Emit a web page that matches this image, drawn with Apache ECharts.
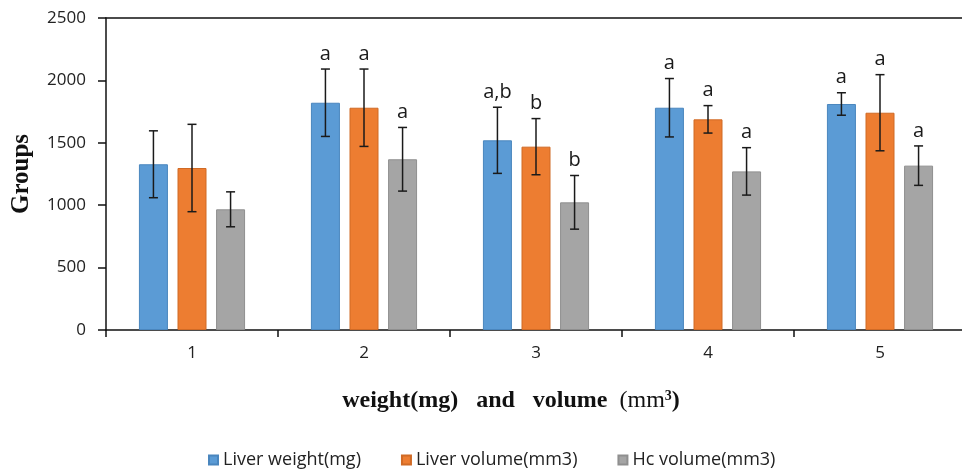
<!DOCTYPE html>
<html>
<head>
<meta charset="utf-8">
<script src="https://cdn.jsdelivr.net/npm/echarts@6/dist/echarts.min.js"></script>
<style>html,body{margin:0;padding:0;background:#fff}#c{width:962px;height:469px}</style>
</head>
<body>
<div id="c"></div>
<script>
const categories = ['1', '2', '3', '4', '5'];
const seriesNames = ['Liver weight(mg)', 'Liver volume(mm3)', 'Hc volume(mm3)'];
const liverWeight = [1328, 1821, 1520, 1781, 1811];
const liverWeightErr = [268, 270, 265, 234, 90];
const liverVolume = [1298, 1781, 1469, 1688, 1741];
const liverVolumeErr = [350, 310, 225, 110, 305];
const hcVolume = [967, 1368, 1023, 1271, 1317];
const hcVolumeErr = [140, 255, 215, 190, 158];
const liverWeightLetters = ['', 'a', 'a,b', 'a', 'a'];
const liverVolumeLetters = ['', 'a', 'b', 'a', 'a'];
const hcVolumeLetters = ['', 'a', 'b', 'a', 'a'];
const yTicks = [0, 500, 1000, 1500, 2000, 2500];

const values = [liverWeight, liverVolume, hcVolume];
const errs = [liverWeightErr, liverVolumeErr, hcVolumeErr];
const letters = [liverWeightLetters, liverVolumeLetters, hcVolumeLetters];
const colors = ['#5B9BD5', '#ED7D31', '#A5A5A5'];
const borders = ['#4A86BE', '#D06A25', '#8F8F8F'];

const BAR_W = 29;
const GAP_PCT = 33;
const step = BAR_W * (1 + GAP_PCT / 100);

const chart = echarts.init(document.getElementById('c'), null, {renderer: 'canvas'});

const barSeries = values.map((v, s) => ({
  name: seriesNames[s],
  type: 'bar',
  data: v,
  barWidth: BAR_W,
  barGap: GAP_PCT + '%',
  itemStyle: {color: colors[s], borderColor: borders[s], borderWidth: 1},
  z: 2
}));

const errSeries = values.map((v, s) => ({
  type: 'custom',
  name: 'err' + s,
  data: v.map((val, i) => [i, val, errs[s][i]]),
  encode: {x: 0, y: 1},
  z: 5,
  clip: false,
  silent: true,
  renderItem: function (params, api) {
    const i = api.value(0), val = api.value(1), e = api.value(2);
    const base = api.coord([i, val]);
    const x = base[0] + (s - 1) * step;
    const yt = api.coord([i, val + e])[1];
    const yb = api.coord([i, val - e])[1];
    const cap = 4.5;
    const st = {stroke: '#1a1a1a', lineWidth: 1.5};
    const ch = [
      {type: 'line', shape: {x1: x, y1: yt, x2: x, y2: yb}, style: st},
      {type: 'line', shape: {x1: x - cap, y1: yt, x2: x + cap, y2: yt}, style: st},
      {type: 'line', shape: {x1: x - cap, y1: yb, x2: x + cap, y2: yb}, style: st}
    ];
    const t = letters[s][params.dataIndex];
    if (t) {
      ch.push({type: 'text', style: {text: t, x: x, y: yt - 5, align: 'center', verticalAlign: 'bottom',
        font: '20px "Open Sans", sans-serif', fill: '#1a1a1a'}});
    }
    return {type: 'group', children: ch};
  }
}));

chart.setOption({
  animation: false,
  backgroundColor: '#fff',
  title: {
    left: 506, top: 384, textAlign: 'center',
    text: '{b|weight(mg)   and   volume  }{r|(mm}{s|3}{b|)}',
    textStyle: {
      rich: {
        b: {fontFamily: '"Liberation Serif", serif', fontWeight: 'bold', fontSize: 24, color: '#111'},
        r: {fontFamily: '"Liberation Serif", serif', fontWeight: 'normal', fontSize: 24, color: '#111'},
        s: {fontFamily: '"Liberation Serif", serif', fontSize: 14, color: '#111', verticalAlign: 'top', padding: [0, 0, 10, 0]}
      }
    }
  },
  legend: {
    data: seriesNames,
    left: 208, top: 451, padding: 0,
    icon: 'rect', itemWidth: 9, itemHeight: 9, itemGap: 40,
    textStyle: {fontFamily: '"Open Sans", sans-serif', fontSize: 18, color: '#222'}
  },
  grid: {left: 106, top: 18, width: 860, height: 312, containLabel: false, outerBoundsMode: 'none'},
  xAxis: [{
    type: 'category', data: categories,
    axisLine: {lineStyle: {color: '#111', width: 1.5}},
    axisTick: {show: true, length: 7, lineStyle: {color: '#111', width: 1.5}},
    axisLabel: {margin: 15, fontFamily: '"Open Sans", sans-serif', fontSize: 17, color: '#222'},
    splitLine: {show: false}
  }, {
    type: 'category', data: categories, position: 'top',
    axisLine: {show: true, lineStyle: {color: '#111', width: 1.5}},
    axisTick: {show: false}, axisLabel: {show: false}
  }],
  yAxis: {
    type: 'value', min: yTicks[0], max: yTicks[yTicks.length - 1], interval: 500,
    name: 'Groups', nameLocation: 'middle', nameGap: 72, nameRotate: 90,
    nameTextStyle: {fontFamily: '"Liberation Serif", serif', fontWeight: 'bold', fontSize: 25, color: '#111'},
    axisLine: {show: true, lineStyle: {color: '#111', width: 1.5}},
    axisTick: {show: true, length: 8, lineStyle: {color: '#111', width: 1.5}},
    axisLabel: {margin: 20, fontFamily: '"Open Sans", sans-serif', fontSize: 17, color: '#222',
      formatter: function (v) { return String(v); }},
    splitLine: {show: false}
  },
  series: barSeries.concat(errSeries)
});
</script>
</body>
</html>
